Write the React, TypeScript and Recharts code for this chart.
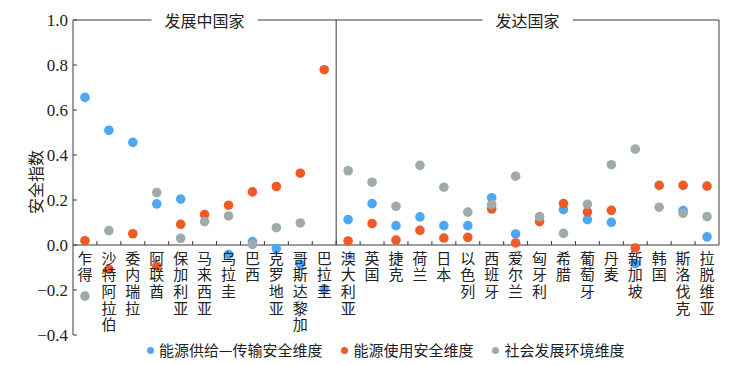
import { ScatterChart, Scatter, XAxis, YAxis, ReferenceLine, ReferenceDot } from "recharts";

const countries = [
  "乍得", "沙特阿拉伯", "委内瑞拉", "阿联酋", "保加利亚", "马来西亚", "乌拉圭", "巴西", "克罗地亚", "哥斯达黎加", "巴拉圭",
  "澳大利亚", "英国", "捷克", "荷兰", "日本", "以色列", "西班牙", "爱尔兰", "匈牙利", "希腊", "葡萄牙", "丹麦", "新加坡", "韩国", "斯洛伐克", "拉脱维亚",
];
// 能源供给—传输安全维度
const supply = [
  0.656, 0.510, 0.456, 0.183, 0.204, null, -0.042, 0.015, -0.016, -0.086, -0.195,
  0.113, 0.184, 0.086, 0.125, 0.086, 0.086, 0.210, 0.049, null, 0.157, 0.113, 0.101, -0.083, null, 0.153, 0.036,
];
// 能源使用安全维度
const usage = [
  0.019, -0.108, 0.050, -0.094, 0.092, 0.135, 0.177, 0.236, 0.260, 0.319, 0.779,
  0.018, 0.095, 0.022, 0.065, 0.031, 0.034, 0.160, 0.009, 0.104, 0.184, 0.147, 0.154, -0.013, 0.265, 0.265, 0.262,
];
// 社会发展环境维度
const social = [
  -0.227, 0.064, null, 0.233, 0.030, 0.104, 0.129, 0.003, 0.077, 0.098, null,
  0.330, 0.279, 0.172, 0.354, 0.257, 0.146, 0.181, 0.306, 0.126, 0.052, 0.181, 0.357, 0.426, 0.168, 0.141, 0.126,
];
const groups = [
  { name: "发展中国家", from: 0, to: 10 },
  { name: "发达国家", from: 11, to: 26 },
];
const yTicks = [-0.4, -0.2, 0, 0.2, 0.4, 0.6, 0.8, 1.0];

const series = [
  { name: "能源供给—传输安全维度", values: supply, color: "#4ea8f1" },
  { name: "能源使用安全维度", values: usage, color: "#ee5b27" },
  { name: "社会发展环境维度", values: social, color: "#9eaaab" },
];

const W = 731;
const H = 357;
const X_H = 1;
const M = { top: 12, right: 20, bottom: 30 - X_H, left: 0 };
const Y_W = 65;
const plotW = W - M.left - M.right - Y_W;
const plotH = H - M.top - M.bottom - X_H;
const bandW = plotW / countries.length;
const zeroOffset = (plotH * 0.4) / 1.4; // distance from bottom of plot to value 0
const AXIS = "#3a3a3a";
const CJK = "'Noto Sans CJK SC', sans-serif";
const SERIF = "'Liberation Serif', 'Times New Roman', serif";

const toPoints = (vals: (number | null)[]) =>
  vals.map((v, i) => ({ i, v })).filter((p) => p.v !== null);

const XTick = (props: any) => {
  const { x, y, payload } = props;
  const name = countries[payload.value] ?? "";
  const zy = y - zeroOffset;
  const bx = x + bandW / 2;
  const isLast = payload.value === countries.length - 1;
  return (
    <g>
      {!isLast && <line x1={bx} x2={bx} y1={zy} y2={zy - 4} stroke={AXIS} strokeWidth={1} />}
      <text x={x} y={zy + 18.5} textAnchor="middle" fontSize={15} fontFamily={CJK} fill="#222">
        {name.split("").map((c, k) => (
          <tspan key={k} x={x} dy={k === 0 ? 0 : 16.7}>{c}</tspan>
        ))}
      </text>
    </g>
  );
};

const YTick = (props: any) => {
  const { x, y, payload } = props;
  const v = payload.value as number;
  const label = (v < 0 ? "\u2212" : "") + Math.abs(v).toFixed(1);
  return (
    <g>
      <line x1={x} x2={x + 4} y1={y} y2={y} stroke={AXIS} strokeWidth={1} />
      <text x={x - 5} y={y} dy={6} textAnchor="end" fontSize={17} fontFamily={SERIF} fill="#222">{label}</text>
    </g>
  );
};

const YLabel = (props: any) => {
  const vb = props.viewBox ?? { x: 0, y: M.top, width: Y_W, height: plotH };
  const cx = vb.x + 27;
  const cy = vb.y + vb.height / 2 + 4.5;
  return (
    <text x={cx} y={cy} transform={`rotate(-90 ${cx} ${cy})`} textAnchor="middle" dominantBaseline="central"
      fontSize={16} fontFamily={CJK} fill="#222">安全指数</text>
  );
};

export default function App() {
  return (
    <div style={{ position: "relative", width: W, height: H }}>
      <ScatterChart width={W} height={H} margin={M}>
        <XAxis type="number" dataKey="i" domain={[-0.5, countries.length - 0.5]}
          ticks={countries.map((_, i) => i)} interval={0} height={X_H}
          axisLine={false} tickLine={false} tickSize={0} tickMargin={0} tick={<XTick />} allowDataOverflow />
        <YAxis type="number" dataKey="v" domain={[-0.4, 1.0]} ticks={yTicks} width={Y_W}
          axisLine={{ stroke: AXIS }} tickLine={false} tickSize={0} tickMargin={0} tick={<YTick />}
          label={<YLabel />} />
        <ReferenceLine y={0} stroke={AXIS} />
        {groups.map((g, gi) => {
          const half = (g.name.length * 16) / 2 / bandW + 0.55;
          const c = (g.from + g.to) / 2;
          const l = g.from - 0.5;
          const r = g.to + 0.5;
          return [
            <ReferenceLine key={`a${gi}`} segment={[{ x: l, y: 1 }, { x: c - half, y: 1 }]} stroke={AXIS} />,
            <ReferenceLine key={`b${gi}`} segment={[{ x: c + half, y: 1 }, { x: r, y: 1 }]} stroke={AXIS} />,
            <ReferenceLine key={`c${gi}`} segment={[{ x: r, y: 0 }, { x: r, y: 1 }]} stroke={AXIS} />,
            <ReferenceDot key={`d${gi}`} x={c} y={1} r={0} stroke="none"
              label={{ value: g.name, position: "center", fontSize: 16, fontFamily: CJK, fill: "#222", dy: 1 }} />,
          ];
        })}
        {series.map((s) => (
          <Scatter key={s.name} name={s.name} data={toPoints(s.values)} fill={s.color} isAnimationActive={false}
            shape={(p: any) => <circle cx={p.cx} cy={p.cy} r={4.8} fill={s.color} />} />
        ))}
      </ScatterChart>
      <div style={{ position: "absolute", left: 139, top: 333, display: "flex", alignItems: "center", fontFamily: CJK, fontSize: 15, color: "#222", lineHeight: "18px", whiteSpace: "nowrap" }}>
        {series.map((s, k) => (
          <div key={s.name} style={{ display: "flex", alignItems: "center", marginLeft: k === 0 ? 0 : 19 }}>
            <span style={{ width: 7, height: 7, borderRadius: "50%", background: s.color, display: "inline-block", marginRight: 5 }} />
            <span>{s.name}</span>
          </div>
        ))}
      </div>
    </div>
  );
}
